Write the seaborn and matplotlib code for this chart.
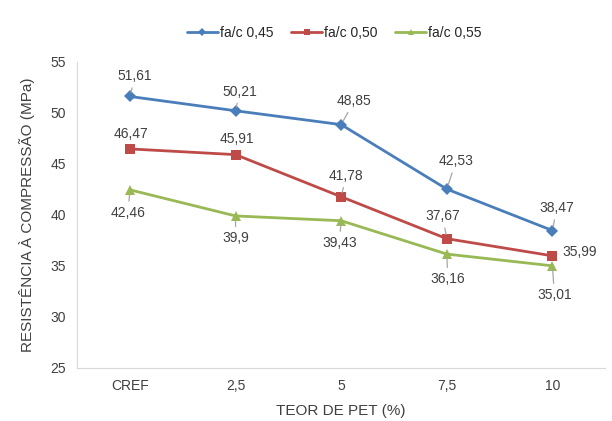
import pandas as pd
import seaborn as sns
import matplotlib.pyplot as plt

# values
teor = ['CREF', '2,5', '5', '7,5', '10']
fac_045 = [51.61, 50.21, 48.85, 42.53, 38.47]
fac_050 = [46.47, 45.91, 41.78, 37.67, 35.99]
fac_055 = [42.46, 39.9, 39.43, 36.16, 35.01]
series = ['fa/c 0,45', 'fa/c 0,50', 'fa/c 0,55']

# label offsets (points) for each data label, and whether a leader line is drawn
offs_045 = [(3.6, 14.5), (3, 13.8), (9.4, 17), (6.5, 20), (3, 16)]
offs_050 = [(0.7, 11), (0.7, 11.5), (3.6, 15), (-3, 16), (19.5, 3)]
offs_055 = [(-1.4, -16.5), (0, -16), (-1.4, -16), (0.7, -18), (1.4, -21)]
lead_045 = [True, True, True, True, True]
lead_050 = [False, False, True, True, False]
lead_055 = [True, True, True, True, True]

data = pd.DataFrame({
    'Teor': teor * 3,
    'Resistencia': fac_045 + fac_050 + fac_055,
    'Serie': [s for s in series for _ in teor],
})

sns.set_style('white')
plt.rcParams['font.family'] = ['Liberation Sans', 'DejaVu Sans']

colors = ['#4a7ebb', '#be4b48', '#98b954']

fig = plt.figure(figsize=(6.12, 4.21), dpi=100)
ax = fig.add_axes([0.126, 0.126, 0.863, 0.727])

sns.lineplot(data=data, x='Teor', y='Resistencia', hue='Serie', style='Serie',
             markers=['D', 's', '^'], dashes=False, palette=colors, sort=False,
             linewidth=2, markersize=6.5, markeredgewidth=0, ax=ax)

for vals, offs, leads in [(fac_045, offs_045, lead_045),
                          (fac_050, offs_050, lead_050),
                          (fac_055, offs_055, lead_055)]:
    for i, (v, o, ld) in enumerate(zip(vals, offs, leads)):
        txt = '{:g}'.format(v).replace('.', ',')
        arrow = None
        if ld:
            arrow = dict(arrowstyle='-', color='#a6a6a6', lw=0.9,
                         shrinkA=1, shrinkB=3)
        ax.annotate(txt, xy=(i, v), xytext=o, textcoords='offset points',
                    ha='center', va='center', fontsize=10, color='#404040',
                    arrowprops=arrow)

ax.set_ylim(25, 55)
ax.set_xlim(-0.5, 4.5)
ax.set_yticks(range(25, 56, 5))
ax.tick_params(axis='both', length=0, labelsize=10, labelcolor='#404040', pad=8)
ax.set_xlabel('TEOR DE PET (%)', fontsize=11, color='#404040', labelpad=8)
ax.set_ylabel('RESISTÊNCIA À COMPRESSÃO (MPa)', fontsize=11, color='#404040', labelpad=11)

for side in ['top', 'right']:
    ax.spines[side].set_visible(False)
for side in ['left', 'bottom']:
    ax.spines[side].set_color('#d9d9d9')

ax.legend(title=None, loc='center', bbox_to_anchor=(0.487, 1.095), ncol=3,
          frameon=False, fontsize=10, handlelength=2.2, columnspacing=1.3,
          handletextpad=0.15, markerscale=0.6)

plt.savefig('out.png', dpi=100)
